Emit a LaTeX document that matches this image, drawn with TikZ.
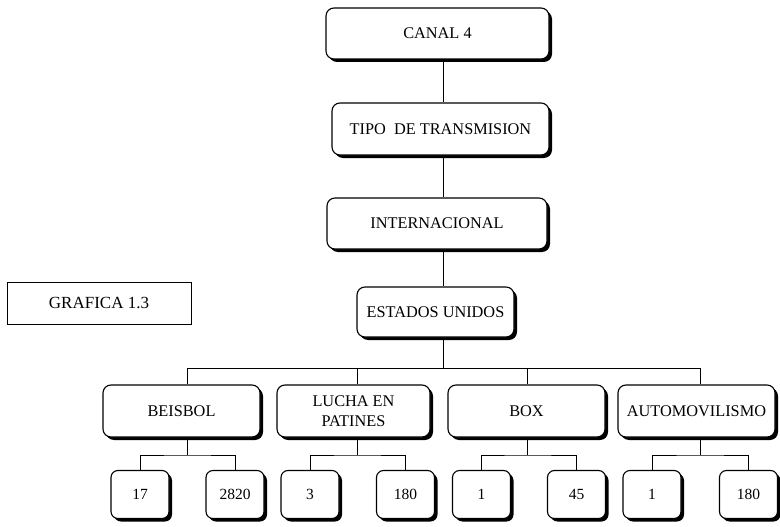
\documentclass[tikz,border=0pt]{standalone}
\usepackage{fontspec}
\setmainfont{Liberation Serif}
\usetikzlibrary{shadows}
\begin{document}
\begin{tikzpicture}[x=1pt,y=-1pt]
\tikzset{
  box/.style={draw, line width=1.1pt, rounded corners=8pt, fill=white,
    drop shadow={shadow xshift=3pt, shadow yshift=-3pt, fill=black, opacity=1},
    inner sep=0pt, align=center, font=\fontsize{16.3}{20.5}\selectfont},
  numbox/.style={box, minimum width=58pt, minimum height=48pt, rounded corners=7pt,
    font=\fontsize{15.5}{20}\selectfont},
  conn/.style={draw, line width=0.9pt},
  plainbox/.style={draw, line width=1pt, inner sep=0pt, font=\fontsize{17}{20}\selectfont}
}
\useasboundingbox (0,0) rectangle (780,527);
\fill[white] (0,0) rectangle (780,527);

% spine and junctions
\coordinate (spine) at (443,0);
\coordinate (bus) at (443,368);
\coordinate (bx1) at (187,368);
\coordinate (bx2) at (357,368);
\coordinate (bx3) at (527,368);
\coordinate (bx4) at (700,368);
\coordinate (j1) at (187,455);
\coordinate (j2) at (357,455);
\coordinate (j3) at (527,455);
\coordinate (j4) at (700,455);

% top chain
\node[box, minimum width=223pt, minimum height=51pt] (canal) at (437.5,33.5) {CANAL 4};
\node[box, minimum width=217pt, minimum height=52pt] (tipo) at (440.5,129) {TIPO\ \ DE TRANSMISION};
\node[box, minimum width=220pt, minimum height=51pt] (inter) at (437,223.5) {INTERNACIONAL};
\node[box, minimum width=157pt, minimum height=50pt] (estados) at (435.5,312) {ESTADOS UNIDOS};

% title box
\node[plainbox, minimum width=184pt, minimum height=42pt] (grafica) at (99,303) {GRAFICA 1.3};

% level 3
\node[box, minimum width=157pt, minimum height=52pt] (beisbol) at (181.5,411) {BEISBOL};
\node[box, minimum width=153pt, minimum height=52pt] (lucha) at (353.5,411) {LUCHA EN\\PATINES};
\node[box, minimum width=157pt, minimum height=52pt] (boxn) at (526.5,411) {BOX};
\node[box, minimum width=157pt, minimum height=52pt] (auto) at (696.5,411) {AUTOMOVILISMO};

% level 4
\node[numbox] (n17) at (140,494.5) {17};
\node[numbox] (n2820) at (235,494.5) {2820};
\node[numbox] (n3) at (310,494.5) {3};
\node[numbox] (n180a) at (405.5,494.5) {180};
\node[numbox] (n1a) at (481.5,494.5) {1};
\node[numbox] (n45) at (576.5,494.5) {45};
\node[numbox] (n1b) at (652,494.5) {1};
\node[numbox] (n180b) at (748.5,494.5) {180};

% connectors
\draw[conn] (canal.south -| spine) -- (tipo.north -| spine);
\draw[conn] (tipo.south -| spine) -- (inter.north -| spine);
\draw[conn] (inter.south -| spine) -- (estados.north -| spine);
\draw[conn] (estados.south -| spine) -- (bus);
\draw[conn] (bx1) -- (bx4);
\draw[conn] (bx1) -- (beisbol.north -| bx1);
\draw[conn] (bx2) -- (lucha.north -| bx2);
\draw[conn] (bx3) -- (boxn.north -| bx3);
\draw[conn] (bx4) -- (auto.north -| bx4);

\draw[conn] (beisbol.south -| j1) -- (j1);
\draw[conn] (n17.north) |- (j1) -| (n2820.north);
\draw[conn] (lucha.south -| j2) -- (j2);
\draw[conn] (n3.north) |- (j2) -| (n180a.north);
\draw[conn] (boxn.south -| j3) -- (j3);
\draw[conn] (n1a.north) |- (j3) -| (n45.north);
\draw[conn] (auto.south -| j4) -- (j4);
\draw[conn] (n1b.north) |- (j4) -| (n180b.north);
\end{tikzpicture}
\end{document}
